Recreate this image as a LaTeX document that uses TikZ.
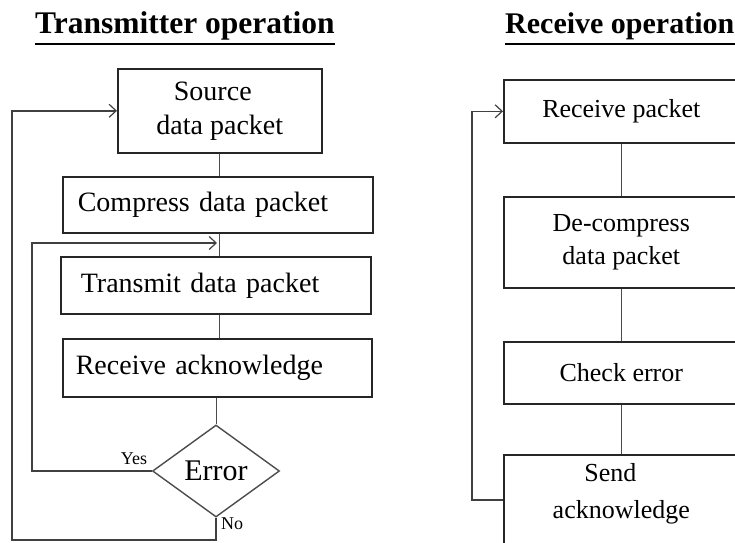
\documentclass[tikz,border=0pt]{standalone}
\usepackage{fontspec}
\setmainfont{Liberation Serif}
\usetikzlibrary{shapes.geometric,arrows.meta,calc}
\begin{document}
\begin{tikzpicture}[x=1pt,y=-1pt,
  box/.style={draw=black!85, line width=1.6pt, rectangle, inner sep=0pt},
  ltxt/.style={font=\fontsize{28}{34}\selectfont},
  rtxt/.style={font=\fontsize{26}{33}\selectfont},
  conn/.style={draw=black!70, line width=1pt},
  fb/.style={draw=black!75, line width=1.6pt},
  arr/.style={-{Straight Barb[length=7pt,width=13pt,line width=1.2pt]}},
  ttl/.style={inner sep=0pt, anchor=base west},
  lbl/.style={font=\fontsize{18}{20}\selectfont, inner sep=0pt}
]
\useasboundingbox (0,0) rectangle (735,542);
\clip (0,0) rectangle (735,542);

% titles
\node[ttl, font=\fontsize{31.5}{36}\selectfont\bfseries] (t1) at (35,33) {Transmitter operation};
\draw[line width=2.4pt] ($(t1.base west)+(0,11)$) -- ($(t1.base east)+(0,11)$);
\node[ttl, font=\fontsize{30}{36}\selectfont\bfseries] (t2) at (505,33) {Receive operation};
\draw[line width=2.4pt] ($(t2.base west)+(0,11)$) -- ($(t2.base east)+(0,11)$);

% transmitter
\node[box, anchor=north west, minimum width=204pt, minimum height=84pt, align=center, ltxt] (src) at (117,68) {Source\rule{14pt}{0pt}\\data packet};
\node[box, anchor=north west, minimum height=56pt, text width=280pt, inner xsep=15pt, align=left, ltxt] (cmp) at (62,176) {Compress data packet};
\node[box, anchor=north west, minimum height=57pt, text width=270pt, inner xsep=20pt, align=left, ltxt] (trn) at (60,256) {Transmit data packet};
\node[box, anchor=north west, minimum height=58pt, text width=283pt, inner xsep=13pt, align=left, ltxt] (rack) at (62,338) {Receive acknowledge};
\node[draw=black!70, line width=1.4pt, diamond, minimum width=127pt, minimum height=92pt, inner sep=0pt, font=\fontsize{30}{36}\selectfont] (err) at (216,471) {Error};

\coordinate (j1) at (217,243);
\coordinate (c1) at (12,540);

\draw[conn] (src.south) -- (src.south |- cmp.north);
\draw[conn] (src.south |- cmp.south) -- (src.south |- trn.north);
\draw[conn] (src.south |- trn.south) -- (src.south |- rack.north);
\draw[conn] (rack.south -| err.north) -- (err.north);

\draw[fb,arr] (err.west) -- ++(-120,0) |- (j1);
\draw[fb,arr] (err.south) |- (c1) |- (src.west);

\node[lbl, anchor=south east] (yes) at ($(err.west)+(-4.5,-6)$) {Yes};
\node[lbl, anchor=west] (no) at ($(err.south)+(5,6)$) {No};

% receiver
\node[box, anchor=north west, minimum width=235pt, minimum height=63pt, rtxt] (rp) at (503,79) {Receive packet};
\node[box, anchor=north west, minimum width=235pt, minimum height=91pt, align=center, rtxt] (dc) at (503,196) {De-compress\\data packet};
\node[box, anchor=north west, minimum width=235pt, minimum height=62pt, rtxt] (ce) at (503,341) {Check error};
\node[box, anchor=north west, minimum width=235pt, minimum height=130pt] (sa) at (503,454) {};
\node[font=\fontsize{26}{37}\selectfont, align=center, anchor=north, inner sep=0pt] (satxt) at ($(sa.north)+(0,9)$) {Send\rule{22pt}{0pt}\\acknowledge};

\draw[conn] (rp.south) -- (dc.north);
\draw[conn] (dc.south) -- (ce.north);
\draw[conn] (ce.south) -- (sa.north);

\coordinate (c2) at (472,500);
\draw[fb,arr] (c2 -| sa.west) -- (c2) |- (rp.west);
\end{tikzpicture}
\end{document}
